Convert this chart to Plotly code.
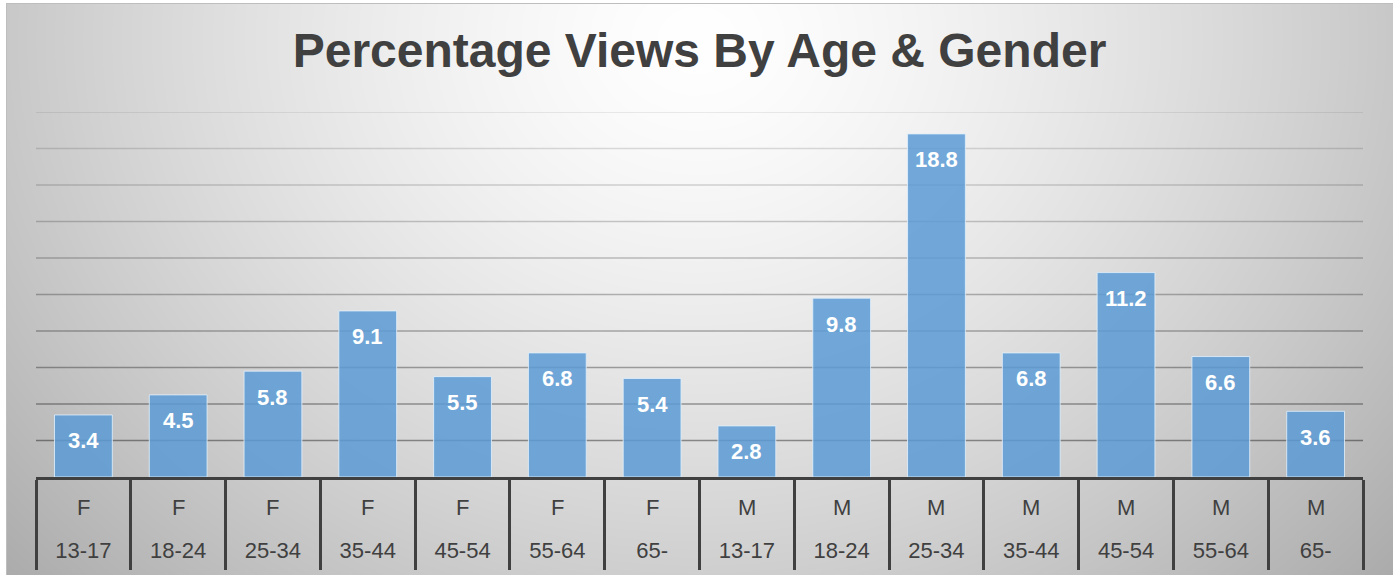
import base64
import struct
import zlib

import numpy as np
import plotly.graph_objects as go

# ---------------- data ----------------
title_text = "Percentage Views By Age & Gender"
genders = ["F", "F", "F", "F", "F", "F", "F", "M", "M", "M", "M", "M", "M", "M"]
ages = ["13-17", "18-24", "25-34", "35-44", "45-54", "55-64", "65-",
        "13-17", "18-24", "25-34", "35-44", "45-54", "55-64", "65-"]
values = [3.4, 4.5, 5.8, 9.1, 5.5, 6.8, 5.4, 2.8, 9.8, 18.8, 6.8, 11.2, 6.6, 3.6]
y_max = 20
grid_values = [2, 4, 6, 8, 10, 12, 14, 16, 18, 20]

categories = [f"{g} {a}" for g, a in zip(genders, ages)]

# ---------------- page geometry ----------------
W, H = 1393, 575
ML, MR, MT, MB = 36, 30, 112, 98
PW, PH = W - ML - MR, H - MT - MB

FONT = "Liberation Sans, Arial, sans-serif"
DARK = "#404040"


# ---------------- radial gradient background (as PNG) ----------------
def make_png(gray):
    h, w = gray.shape
    raw = np.hstack([np.zeros((h, 1), np.uint8), gray]).tobytes()

    def chunk(t, d):
        return (struct.pack(">I", len(d)) + t + d
                + struct.pack(">I", zlib.crc32(t + d) & 0xFFFFFFFF))

    return (b"\x89PNG\r\n\x1a\n"
            + chunk(b"IHDR", struct.pack(">IIBBBBB", w, h, 8, 0, 0, 0, 0))
            + chunk(b"IDAT", zlib.compress(raw, 9))
            + chunk(b"IEND", b""))


yy, xx = np.mgrid[0:H, 0:W]
cx, cy = 697, 40
r = np.sqrt(((xx - cx) / 760.0) ** 2 + ((yy - cy) / 640.0) ** 2)
g = 255 - 62 * np.clip(r, 0, 1.3) ** 1.4
g = np.clip(g, 0, 255).astype(np.uint8)
g[:, :6] = 255
g[:3, :] = 255
g[3:, 6] = 190
g[3, 6:] = 190
bg_uri = "data:image/png;base64," + base64.b64encode(make_png(g)).decode()

# ---------------- figure ----------------
fig = go.Figure(
    go.Bar(
        x=categories,
        y=values,
        marker=dict(color="rgba(91,155,213,0.85)",
                    line=dict(color="rgba(225,238,250,0.85)", width=1)),
        hoverinfo="x+y",
    )
)

shapes = []
for v in grid_values:
    a = 0.43 - 0.33 * (v / y_max)
    shapes.append(dict(type="line", xref="paper", x0=0, x1=1, yref="y", y0=v, y1=v,
                       line=dict(color=f"rgba(0,0,0,{a:.3f})", width=1.5),
                       layer="below"))

annotations = []
for c, v in zip(categories, values):
    annotations.append(dict(x=c, y=v, xref="x", yref="y", text=f"<b>{v:.1f}</b>",
                            showarrow=False, yanchor="middle", yshift=-26,
                            font=dict(family=FONT, size=22, color="white")))
for c, gname in zip(categories, genders):
    annotations.append(dict(x=c, y=0, xref="x", yref="paper", text=gname,
                            showarrow=False, yanchor="middle", yshift=-30,
                            font=dict(family=FONT, size=22, color=DARK)))

fig.update_layout(
    width=W, height=H,
    margin=dict(l=ML, r=MR, t=MT, b=MB, pad=0, autoexpand=False),
    paper_bgcolor="white",
    plot_bgcolor="rgba(0,0,0,0)",
    bargap=0.39,
    showlegend=False,
    title=dict(text=f"<b>{title_text}</b>", x=0.5, xref="paper", xanchor="center",
               y=1 - 50 / H, yref="container", yanchor="middle",
               font=dict(family=FONT, size=48, color=DARK)),
    xaxis=dict(type="category", tickmode="array", tickvals=categories, ticktext=ages,
               ticks="outside", tickson="boundaries", ticklen=90, tickwidth=3,
               tickcolor=DARK, showline=True, linecolor=DARK, linewidth=3,
               showgrid=False, ticklabelstandoff=52, automargin=False,
               tickfont=dict(family=FONT, size=22, color=DARK)),
    yaxis=dict(range=[0, y_max], showgrid=False, zeroline=False, automargin=False,
               showticklabels=False, showline=False),
    shapes=shapes,
    annotations=annotations,
    images=[dict(source=bg_uri, xref="paper", yref="paper",
                 x=-ML / PW, y=1 + MT / PH, sizex=W / PW, sizey=H / PH,
                 xanchor="left", yanchor="top", sizing="stretch", layer="below")],
)

fig.write_html("out.html",
               config={"displayModeBar": False},
               post_script="document.body.style.margin='0';"
                           "document.body.style.overflow='hidden';")
